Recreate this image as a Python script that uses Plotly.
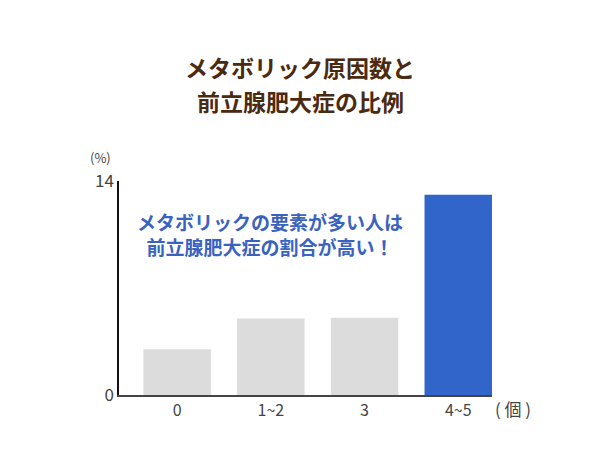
import plotly.graph_objects as go

categories = ["0", "1~2", "3", "4~5"]
values = [3.0, 5.0, 5.05, 13.1]
bar_colors = ["#dcdcdc", "#dcdcdc", "#dcdcdc", "#3165c9"]
y_ticks = [0, 14]
title_lines = ["メタボリック原因数と", "前立腺肥大症の比例"]
note_lines = ["メタボリックの要素が多い人は", "前立腺肥大症の割合が高い！"]

jp = "Noto Sans CJK JP"

fig = go.Figure(go.Bar(
    x=list(range(len(categories))), y=values,
    marker=dict(color=bar_colors, line=dict(width=0)),
    width=0.72,
))

title_font = dict(family=jp, size=23, color="#4a2a10", weight="bold")

fig.update_layout(
    width=600, height=450,
    margin=dict(l=111, r=116, t=173, b=63),
    paper_bgcolor="white", plot_bgcolor="white",
    showlegend=False,
    xaxis=dict(range=[-0.62, 3.36], tickvals=list(range(len(categories))),
               ticktext=categories, showline=True, linecolor="#444", linewidth=1.5,
               ticks="", showgrid=False, zeroline=False,
               tickfont=dict(family=jp, size=16, color="#444")),
    yaxis=dict(range=[0, 14], tickvals=y_ticks, showline=True, linecolor="#111",
               linewidth=1.5, ticks="", showgrid=False, zeroline=False,
               tickfont=dict(family=jp, size=17, color="#444")),
    annotations=[
        dict(text=title_lines[0], xref="paper", yref="paper",
             x=(292 - 111) / 373, y=(387 - 59) / 214, xanchor="center", yanchor="middle",
             showarrow=False, font=title_font, borderpad=0),
        dict(text=title_lines[1], xref="paper", yref="paper",
             x=(292 - 111) / 373, y=(387 - 93) / 214, xanchor="center", yanchor="middle",
             showarrow=False, font=title_font, borderpad=0),
        dict(text="<br>".join(note_lines), xref="paper", yref="paper",
             x=0.405, y=0.752, xanchor="center", yanchor="middle", showarrow=False,
             align="center",
             font=dict(family=jp, size=19, color="#3a63c0", weight="bold")),
        dict(text="(%)", xref="paper", yref="paper", x=-0.016, y=1.11,
             xanchor="right", yanchor="middle", showarrow=False,
             font=dict(family=jp, size=13, color="#444")),
        dict(text="( 個 )", xref="paper", yref="paper", x=1.003, y=-0.061,
             xanchor="left", yanchor="middle", showarrow=False,
             font=dict(family=jp, size=17, color="#444")),
    ],
)

fig.write_html("out.html")
